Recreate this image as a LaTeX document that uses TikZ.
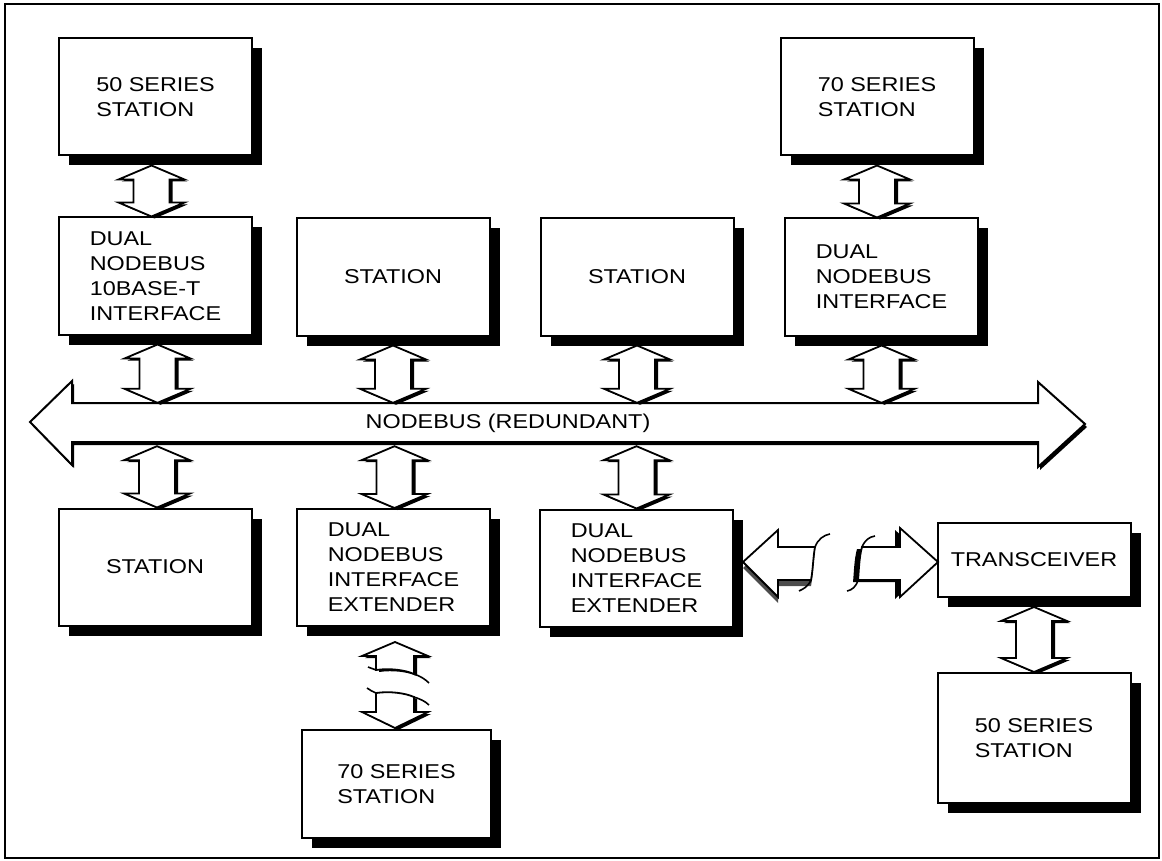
\documentclass[tikz,border=0pt]{standalone}
\usepackage{fontspec}
\setmainfont{Liberation Sans}[FakeStretch=1.17]
\usetikzlibrary{calc,shadows}
\begin{document}
\begin{tikzpicture}[x=1pt,y=-1pt,
  box/.style={draw=black, line width=2pt, fill=white,
    minimum width=193pt, minimum height=117pt, inner sep=0pt, align=left,
    font=\fontsize{20}{25}\selectfont,
    drop shadow={shadow xshift=10pt, shadow yshift=-10pt, fill=black, opacity=1}},
  blockshape/.style={draw=black, line width=1.8pt, fill=white, line join=miter},
  vdarrow/.style={blockshape,
    drop shadow={shadow xshift=3pt, shadow yshift=-2pt, fill=black, opacity=1},
    to path={let \p1=(\tikztostart), \p2=(\tikztotarget) in
      (\x1,\y1) -- (\x1+33pt,\y1-14pt) -- (\x1+18pt,\y1-14pt)
      -- (\x1+18pt,\y2+14pt) -- (\x1+33pt,\y2+14pt) -- (\x1,\y2)
      -- (\x1-33pt,\y2+14pt) -- (\x1-18pt,\y2+14pt)
      -- (\x1-18pt,\y1-14pt) -- (\x1-33pt,\y1-14pt) -- cycle}},
  breakline/.style={draw=black, line width=1.6pt},
  lbl/.style={font=\fontsize{20}{25}\selectfont, inner sep=0pt}
]
\useasboundingbox (0,0) rectangle (1162,861);
% frame
\draw[line width=1.6pt] (5,4) rectangle (1159,858);

% stations and interfaces
\node[box] (s50t)  at (155.5,97)  {50 SERIES\\STATION};
\node[box] (dni1)  at (155.5,276) {DUAL\\NODEBUS\\10BASE-T\\INTERFACE};
\node[box] (st2)   at (393,277)   {STATION};
\node[box] (st3)   at (637,277)   {STATION};
\node[box] (s70t)  at (877,97)    {70 SERIES\\STATION};
\node[box] (dni4)  at (881.5,277) {DUAL\\NODEBUS\\INTERFACE};
\node[box] (st1b)  at (155,567)   {STATION};
\node[box] (dnie2) at (393.5,567.5) {DUAL\\NODEBUS\\INTERFACE\\EXTENDER};
\node[box] (dnie3) at (636.5,568) {DUAL\\NODEBUS\\INTERFACE\\EXTENDER};
\node[box, minimum height=74pt] (tr) at (1034,560) {TRANSCEIVER};
\node[box, minimum height=130pt] (s50b) at (1034,738) {50 SERIES\\STATION};
\node[box, minimum width=189pt, minimum height=108pt] (s70b) at (396.5,784) {70 SERIES\\STATION};

% redundant nodebus
\draw[blockshape, line width=2pt,
  drop shadow={shadow xshift=2pt, shadow yshift=-3pt, fill=black, opacity=1}]
  (30,422) -- (72,381) -- (72,403) -- (1038,403) -- (1038,382) -- (1085,424)
  -- (1038,467) -- (1038,442) -- (72,442) -- (72,465) -- cycle;
\node[inner sep=0pt, minimum width=966pt, minimum height=39pt] (bus) at (555,422.5) {};
\node[lbl] (buslbl) at (508,423) {NODEBUS (REDUNDANT)};

% links between units
\draw[vdarrow] ([xshift=-4pt,yshift=-9pt]s50t.south) to ([xshift=-4pt]dni1.north);
\draw[vdarrow] ([xshift=2pt,yshift=-9pt]dni1.south) to (bus.north -| dni1.south);
\draw[vdarrow] ([xshift=2pt,yshift=-4pt]bus.south -| st1b.north) to (st1b.north);
\draw[vdarrow] ([yshift=-9pt]st2.south) to (bus.north -| st2.south);
\draw[vdarrow] ([xshift=1pt,yshift=-4pt]bus.south -| dnie2.north) to (dnie2.north);
\draw[vdarrow] ([yshift=-9pt]st3.south) to (bus.north -| st3.south);
\draw[vdarrow] ([yshift=-4pt]bus.south -| dnie3.north) to (dnie3.north);
\draw[vdarrow] ([yshift=-9pt]s70t.south) to (s70t.south |- dni4.north);
\draw[vdarrow] ([yshift=-9pt]dni4.south) to (bus.north -| dni4.south);
\draw[vdarrow] ([yshift=-9pt]tr.south) to (s50b.north);

% broken link: extender to 70 series station
\path[blockshape, drop shadow={shadow xshift=3pt, shadow yshift=-2pt, fill=black, opacity=1}]
  (395,642) -- (428,656) -- (414,656) -- (414,674)
  .. controls (405,670) and (390,668) .. (376,670) -- (376,656) -- (362,656) -- cycle;
\draw[breakline] (414,674) .. controls (420,676) and (425,679) .. (429,683);
\draw[breakline] (376,670) .. controls (373,669) and (371,668) .. (368,667);
\path[blockshape, drop shadow={shadow xshift=3pt, shadow yshift=-2pt, fill=black, opacity=1}]
  (376,693) .. controls (390,691) and (405,693) .. (414,697) -- (414,712) -- (428,712)
  -- (395,728) -- (362,712) -- (376,712) -- cycle;
\draw[breakline] (376,693) .. controls (373,692) and (370,690) .. (367,688);
\draw[breakline] (414,697) .. controls (420,699) and (425,701) .. (429,705);

% broken link: extender to transceiver
\path[blockshape, drop shadow={shadow xshift=0pt, shadow yshift=-6pt, fill=black!70, opacity=1}]
  (743,562) -- (778,530) -- (778,547) -- (815,547)
  .. controls (813,558) and (813,570) .. (811,580) -- (778,580) -- (778,597) -- cycle;
\draw[breakline] (815,547) .. controls (818,539) and (824,535) .. (830,534);
\draw[breakline] (811,580) .. controls (808,587) and (803,589) .. (799,591);
\path[blockshape, drop shadow={shadow xshift=-5pt, shadow yshift=-2pt, fill=black, opacity=1}]
  (938,562) -- (900,528) -- (900,547) -- (862,547)
  .. controls (859,558) and (859,570) .. (858,580) -- (900,580) -- (900,597) -- cycle;
\draw[breakline] (862,547) .. controls (865,540) and (869,537) .. (875,536);
\draw[breakline] (858,580) .. controls (856,587) and (852,590) .. (847,591);
\end{tikzpicture}
\end{document}
